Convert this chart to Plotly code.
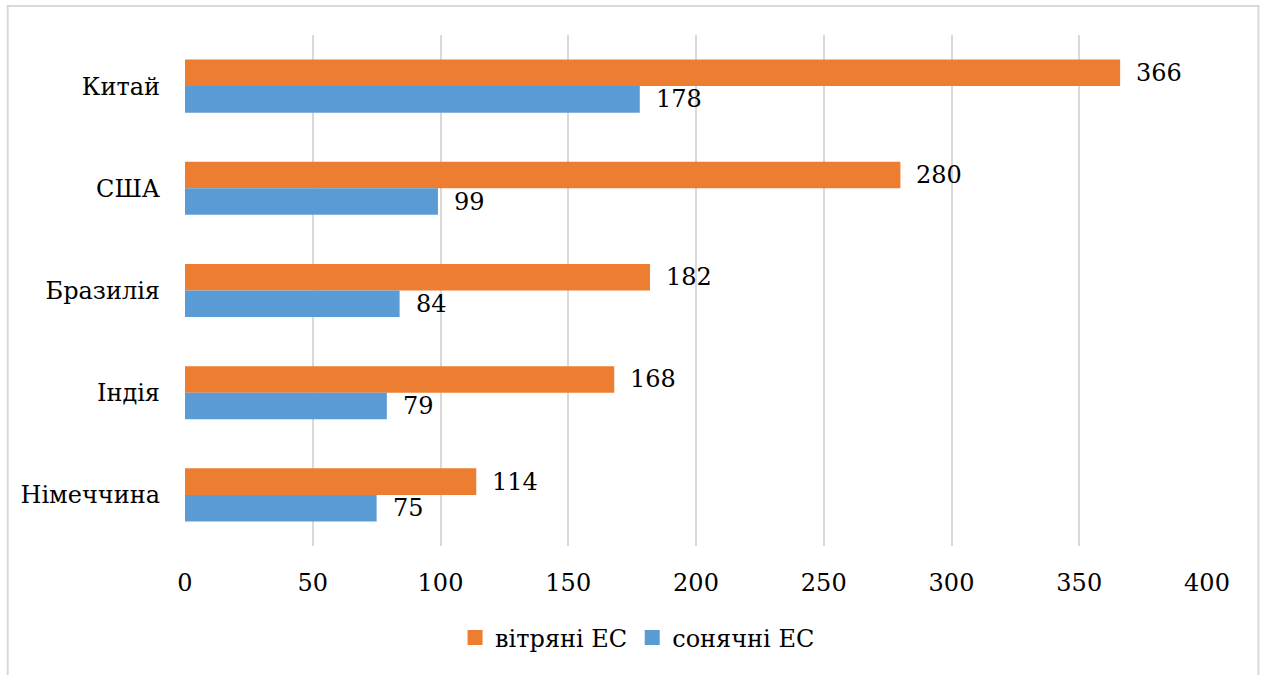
import plotly.graph_objects as go

# Data
countries = ["Китай", "США", "Бразилія", "Індія", "Німеччина"]
wind = [366, 280, 182, 168, 114]
solar = [178, 99, 84, 79, 75]
series_names = ["вітряні ЕС", "сонячні ЕС"]
x_ticks = [0, 50, 100, 150, 200, 250, 300, 350, 400]

ORANGE = "#ED7D31"
BLUE = "#5B9BD5"
GRID = "#D9D9D9"
FONT = "DejaVu Serif"
FS = 24

W, H = 1265, 675
M_L, M_R, M_T, M_B = 184.5, 57.5, 35, 128.5

fig = go.Figure()
for name, vals, col in [(series_names[0], wind, ORANGE), (series_names[1], solar, BLUE)]:
    fig.add_trace(go.Bar(
        y=countries, x=vals, name=name, orientation="h",
        marker=dict(color=col, line=dict(width=0)),
        showlegend=False,
    ))
    # legend entry with a larger square swatch
    fig.add_trace(go.Scatter(
        x=[None], y=[None], mode="markers", name=name,
        marker=dict(symbol="square", size=15, color=col),
    ))

# value labels placed to the right of each bar
annotations = []
for i, c in enumerate(countries):
    for vals, off in [(wind, -0.13), (solar, 0.13)]:
        annotations.append(dict(
            x=vals[i], y=i + off, xref="x", yref="y",
            text=str(vals[i]), showarrow=False,
            xanchor="left", yanchor="middle", xshift=14,
            font=dict(family=FONT, size=FS, color="black"),
        ))

# outer frame around the whole chart
pw = W - M_L - M_R
ph = H - M_T - M_B
def px_to_paper_x(px):
    return (px - M_L) / pw
def px_to_paper_y(py):
    return (H - M_B - py) / ph

fig.update_layout(
    width=W, height=H,
    margin=dict(l=M_L, r=M_R, t=M_T, b=M_B, autoexpand=False),
    paper_bgcolor="white", plot_bgcolor="white",
    barmode="group", bargap=0.48, bargroupgap=0,
    font=dict(family=FONT, size=FS, color="black"),
    xaxis=dict(
        range=[0, 400], tickvals=x_ticks, showgrid=True, gridcolor=GRID,
        gridwidth=1.5, zeroline=False, showline=False, ticks="",
        ticklabelstandoff=20, tickfont=dict(family=FONT, size=FS, color="black"),
    ),
    yaxis=dict(
        categoryorder="array", categoryarray=countries, autorange="reversed",
        showgrid=False, zeroline=False, showline=False, ticks="",
        ticklabelstandoff=24, tickfont=dict(family=FONT, size=FS, color="black"),
    ),
    legend=dict(
        orientation="h", xref="container", yref="container",
        x=0.504, xanchor="center", y=(H - 638) / H, yanchor="middle",
        font=dict(family=FONT, size=FS, color="black"),
        itemsizing="trace", tracegroupgap=0,
    ),
    annotations=annotations,
    shapes=[dict(
        type="rect", xref="paper", yref="paper",
        x0=px_to_paper_x(7), x1=px_to_paper_x(1259),
        y0=px_to_paper_y(690), y1=px_to_paper_y(6),
        line=dict(color=GRID, width=2), fillcolor="rgba(0,0,0,0)", layer="below",
    )],
)

fig.write_html("out.html")
